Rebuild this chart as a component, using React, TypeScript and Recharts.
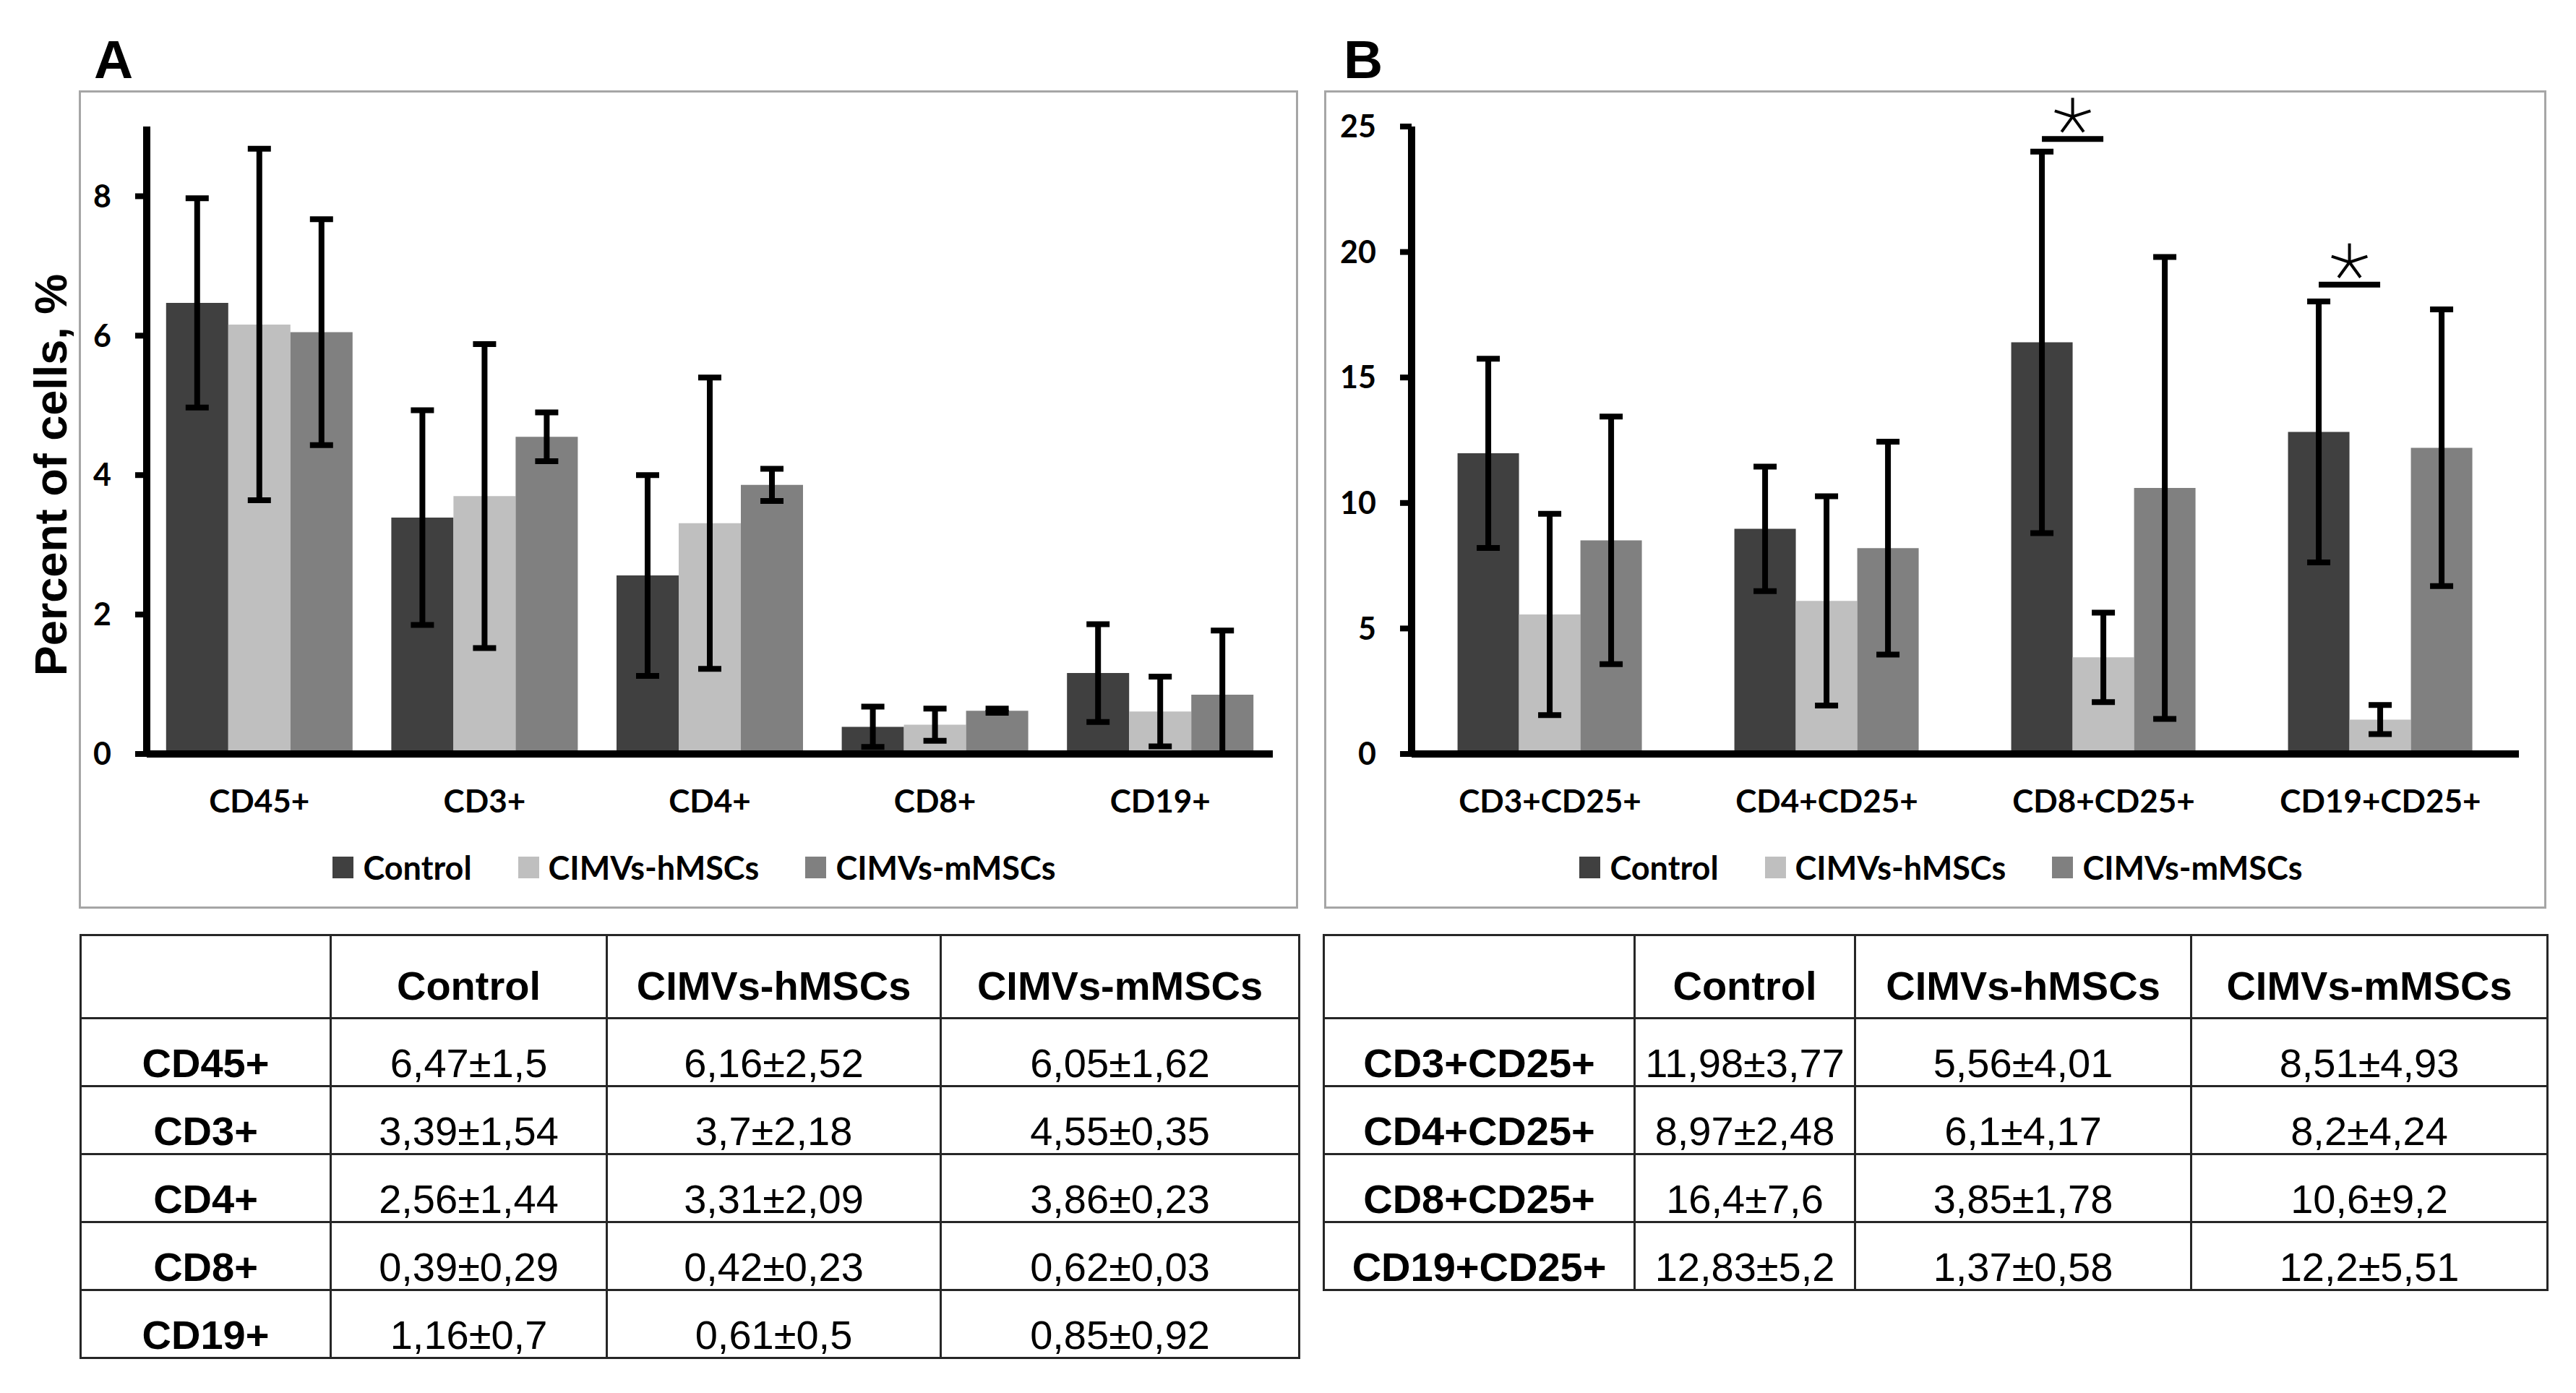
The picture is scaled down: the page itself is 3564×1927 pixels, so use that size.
import React from 'react';
import { BarChart, Bar, XAxis, YAxis, ErrorBar, Legend } from 'recharts';

const groups = ['Control', 'CIMVs-hMSCs', 'CIMVs-mMSCs'];
const colors = ['#404040', '#bfbfbf', '#808080'];

// panel A
const catsA = ['CD45+', 'CD3+', 'CD4+', 'CD8+', 'CD19+'];
const controlA = [6.47, 3.39, 2.56, 0.39, 1.16];
const controlSdA = [1.5, 1.54, 1.44, 0.29, 0.7];
const hmscA = [6.16, 3.7, 3.31, 0.42, 0.61];
const hmscSdA = [2.52, 2.18, 2.09, 0.23, 0.5];
const mmscA = [6.05, 4.55, 3.86, 0.62, 0.85];
const mmscSdA = [1.62, 0.35, 0.23, 0.03, 0.92];
const ticksA = [0, 2, 4, 6, 8];

// panel B
const catsB = ['CD3+CD25+', 'CD4+CD25+', 'CD8+CD25+', 'CD19+CD25+'];
const controlB = [11.98, 8.97, 16.4, 12.83];
const controlSdB = [3.77, 2.48, 7.6, 5.2];
const hmscB = [5.56, 6.1, 3.85, 1.37];
const hmscSdB = [4.01, 4.17, 1.78, 0.58];
const mmscB = [8.51, 8.2, 10.6, 12.2];
const mmscSdB = [4.93, 4.24, 9.2, 5.51];
const ticksB = [0, 5, 10, 15, 20, 25];
// height of the significance bar (Control vs CIMVs-hMSCs)
const sigB: (number | null)[] = [null, null, 24.5, 18.7];

const CHART_FONT = 'Lato, "Open Sans", sans-serif';
const TABLE_FONT = '"Liberation Sans", Arial, sans-serif';

// error bar drawn down to the axis at most, like the original
const err = (v: number, s: number) => [Math.min(s, v), s];

const toRows = (cats: string[], m: number[][], sd: number[][]) =>
  cats.map((cat, i) => ({
    cat,
    c: m[0][i], cSd: sd[0][i], cErr: err(m[0][i], sd[0][i]),
    h: m[1][i], hSd: sd[1][i], hErr: err(m[1][i], sd[1][i]),
    m: m[2][i], mSd: sd[2][i], mErr: err(m[2][i], sd[2][i]),
  }));

const dataA = toRows(catsA, [controlA, hmscA, mmscA], [controlSdA, hmscSdA, mmscSdA]);
const dataB = toRows(catsB, [controlB, hmscB, mmscB], [controlSdB, hmscSdB, mmscSdB]);

const fmt = (v: number, s: number) => `${String(v).replace('.', ',')}±${String(s).replace('.', ',')}`;

const renderLegend = (props: any) => {
  const payload = [...(props.payload || [])].sort(
    (a: any, b: any) => groups.indexOf(a.value) - groups.indexOf(b.value)
  );
  return (
    <div
      style={{
        display: 'flex', justifyContent: 'center', alignItems: 'center', height: 60,
        paddingLeft: 16, fontFamily: CHART_FONT, fontWeight: 700, fontSize: 45, color: '#000',
      }}
    >
      {payload.map((p: any, i: number) => (
        <div key={p.value} style={{ display: 'flex', alignItems: 'center', marginRight: i < payload.length - 1 ? 64 : 0 }}>
          <span style={{ display: 'inline-block', width: 29, height: 30, background: p.color, marginRight: 13 }} />
          <span style={{ lineHeight: 1 }}>{p.value}</span>
        </div>
      ))}
    </div>
  );
};

const makeSigLabel = (sig: (number | null)[]) => (props: any) => {
  const s = sig[props.index];
  if (s == null) return null;
  const vb = props.viewBox ?? props;
  const { x, y, width, height } = vb;
  const value = Number(props.value);
  const yLine = y + height - (s * height) / value;
  const cx = x + width;
  const cy = yLine - 31;
  const r = 26;
  const angles = [-90, -18, -162, 54, 126];
  return (
    <g>
      <line x1={x + width / 2} x2={x + width * 1.5} y1={yLine} y2={yLine} stroke="#000" strokeWidth={8} />
      {angles.map((a) => (
        <line
          key={a}
          x1={cx}
          y1={cy}
          x2={cx + r * Math.cos((a * Math.PI) / 180)}
          y2={cy + r * Math.sin((a * Math.PI) / 180)}
          stroke="#000"
          strokeWidth={4}
        />
      ))}
    </g>
  );
};

type PanelProps = {
  left: number;
  width: number;
  data: any[];
  domain: [number, number];
  ticks: number[];
  yWidth: number;
  marginRight: number;
  gap: string;
  sig?: (number | null)[];
};

const TOP = 125;
const HEIGHT = 1132;

const Panel: React.FC<PanelProps> = ({ left, width, data, domain, ticks, yWidth, marginRight, gap, sig }) => (
  <div style={{ position: 'absolute', left, top: TOP, width, height: HEIGHT }}>
    <div style={{ position: 'absolute', inset: 0, border: '3px solid #a6a6a6', boxSizing: 'border-box' }} />
    <BarChart
      width={width}
      height={HEIGHT}
      data={data}
      margin={{ top: 50, right: marginRight, left: 0, bottom: 114 }}
      barCategoryGap={gap}
      barGap={0}
    >
      <XAxis
        dataKey="cat"
        height={100}
        tickLine={false}
        tickMargin={44}
        axisLine={{ stroke: '#000', strokeWidth: 10 }}
        tick={{ fill: '#000', fontFamily: CHART_FONT, fontWeight: 700, fontSize: 44 }}
        interval={0}
      />
      <YAxis
        width={yWidth}
        domain={domain}
        ticks={ticks}
        allowDataOverflow
        tickSize={16}
        tickMargin={33}
        axisLine={{ stroke: '#000', strokeWidth: 10 }}
        tickLine={{ stroke: '#000', strokeWidth: 8 }}
        tick={{ fill: '#000', fontFamily: CHART_FONT, fontWeight: 700, fontSize: 43 }}
      />
      <Legend
        layout="horizontal"
        verticalAlign="middle"
        align="center"
        content={renderLegend}
        wrapperStyle={{ top: 1200 - TOP - 30, left: 0, width, height: 60 }}
      />
      <Bar dataKey="c" name={groups[0]} fill={colors[0]} isAnimationActive={false} label={sig ? makeSigLabel(sig) : undefined}>
        <ErrorBar dataKey="cErr" width={16} strokeWidth={8} stroke="#000" isAnimationActive={false} />
      </Bar>
      <Bar dataKey="h" name={groups[1]} fill={colors[1]} isAnimationActive={false}>
        <ErrorBar dataKey="hErr" width={16} strokeWidth={8} stroke="#000" isAnimationActive={false} />
      </Bar>
      <Bar dataKey="m" name={groups[2]} fill={colors[2]} isAnimationActive={false}>
        <ErrorBar dataKey="mErr" width={16} strokeWidth={8} stroke="#000" isAnimationActive={false} />
      </Bar>
    </BarChart>
  </div>
);

type TableProps = { left: number; colWidths: number[]; data: any[] };

const StatsTable: React.FC<TableProps> = ({ left, colWidths, data }) => {
  const cell: React.CSSProperties = {
    border: '3px solid #262626',
    padding: 0,
    textAlign: 'center',
    verticalAlign: 'middle',
    boxSizing: 'border-box',
    lineHeight: 1,
    whiteSpace: 'nowrap',
  };
  return (
    <table
      style={{
        position: 'absolute', left, top: 1292, borderCollapse: 'collapse', tableLayout: 'fixed',
        width: colWidths.reduce((a, b) => a + b, 0), fontFamily: TABLE_FONT, fontSize: 56, color: '#000',
      }}
    >
      <colgroup>
        {colWidths.map((w, i) => <col key={i} style={{ width: w }} />)}
      </colgroup>
      <tbody>
        <tr>
          <td style={{ ...cell, height: 115, paddingTop: 25 }} />
          {groups.map((g) => (
            <td key={g} style={{ ...cell, height: 115, paddingTop: 25, fontWeight: 700 }}>{g}</td>
          ))}
        </tr>
        {data.map((r) => (
          <tr key={r.cat}>
            <td style={{ ...cell, height: 94, paddingTop: 30, fontWeight: 700 }}>{r.cat}</td>
            <td style={{ ...cell, height: 94, paddingTop: 30 }}>{fmt(r.c, r.cSd)}</td>
            <td style={{ ...cell, height: 94, paddingTop: 30 }}>{fmt(r.h, r.hSd)}</td>
            <td style={{ ...cell, height: 94, paddingTop: 30 }}>{fmt(r.m, r.mSd)}</td>
          </tr>
        ))}
      </tbody>
    </table>
  );
};

const panelLabel = (left: number): React.CSSProperties => ({
  position: 'absolute', left, top: 45, fontFamily: TABLE_FONT, fontWeight: 700, fontSize: 75, lineHeight: 1,
});

export default function App() {
  return (
    <div style={{ position: 'absolute', left: 0, top: 0, width: 3564, height: 1927, background: '#fff', overflow: 'hidden' }}>
      <div style={panelLabel(130)}>A</div>
      <div style={panelLabel(1859)}>B</div>

      <Panel left={109} width={1687} data={dataA} domain={[0, 9]} ticks={ticksA} yWidth={94} marginRight={35} gap="8.6%" />
      <Panel left={1832} width={1691} data={dataB} domain={[0, 25]} ticks={ticksB} yWidth={121} marginRight={38} gap="16.6%" sig={sigB} />

      <div
        style={{
          position: 'absolute', left: 70, top: 657, transform: 'translate(-50%, -50%) rotate(-90deg)',
          fontFamily: TABLE_FONT, fontWeight: 700, fontSize: 63, lineHeight: 1, whiteSpace: 'nowrap',
        }}
      >
        Percent of cells, %
      </div>

      <StatsTable left={110} colWidths={[346, 382, 462, 496]} data={dataA} />
      <StatsTable left={1830} colWidths={[430, 305, 465, 493]} data={dataB} />
    </div>
  );
}
